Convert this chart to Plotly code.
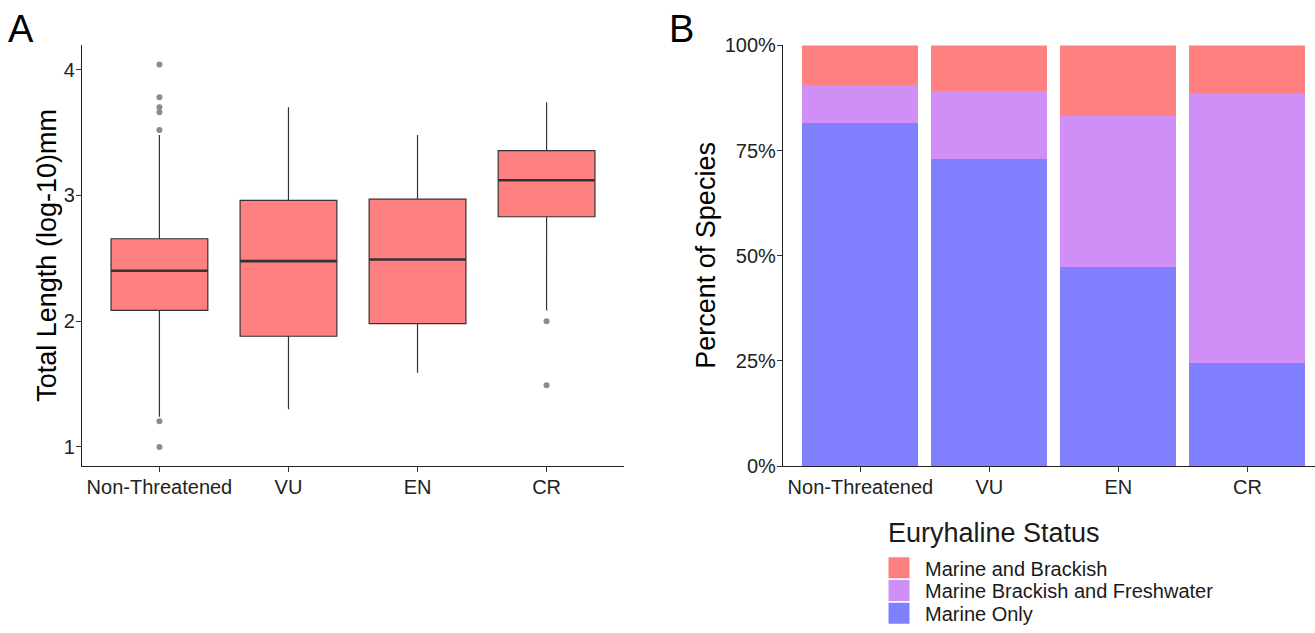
import plotly.graph_objects as go

# ---- Data ----
categories = ["Non-Threatened", "VU", "EN", "CR"]

# Panel A: box statistics of total length (log-10 mm)
box_q1 = [2.085, 1.88, 1.98, 2.83]
box_median = [2.40, 2.477, 2.49, 3.12]
box_q3 = [2.655, 2.96, 2.97, 3.355]
box_lower = [1.24, 1.30, 1.59, 2.085]
box_upper = [3.48, 3.70, 3.48, 3.74]
outlier_cat = [1, 1, 1, 1, 1, 1, 1, 4, 4]
outlier_val = [4.04, 3.78, 3.70, 3.66, 3.52, 1.205, 1.0, 2.0, 1.49]

# Panel B: percent of species by euryhaline status
status_names = ["Marine and Brackish", "Marine Brackish and Freshwater", "Marine Only"]
pct_marine_only = [81.6, 72.9, 47.3, 24.4]
pct_mbf = [8.9, 16.3, 35.8, 64.4]
pct_mb = [9.5, 10.8, 16.9, 11.2]
status_colors = ["#FF8080", "#CF8FF7", "#8080FF"]

W, H = 1315, 633
FONT = "Liberation Sans, Arial, sans-serif"
xs = [1, 2, 3, 4]


def px_x(p):
    return p / W


def px_y(p):
    return 1 - p / H


fig = go.Figure()

# Panel A boxes
fig.add_trace(go.Box(
    x=xs, q1=box_q1, median=box_median, q3=box_q3,
    lowerfence=box_lower, upperfence=box_upper,
    width=0.75, whiskerwidth=0, boxpoints=False,
    fillcolor="#FF8080", line=dict(color="#333333", width=1.2),
    xaxis="x", yaxis="y", showlegend=False, hoverinfo="skip",
))
# thicker median lines
mx, my = [], []
for x, m in zip(xs, box_median):
    mx += [x - 0.375, x + 0.375, None]
    my += [m, m, None]
fig.add_trace(go.Scatter(
    x=mx, y=my, mode="lines", line=dict(color="#333333", width=2.6),
    xaxis="x", yaxis="y", showlegend=False, hoverinfo="skip",
))
# outliers
fig.add_trace(go.Scatter(
    x=outlier_cat, y=outlier_val, mode="markers",
    marker=dict(color="#8c8c8c", size=6),
    xaxis="x", yaxis="y", showlegend=False, hoverinfo="skip",
))

# Panel B stacked bars (bottom to top)
for name, vals, col in [(status_names[2], pct_marine_only, status_colors[2]),
                        (status_names[1], pct_mbf, status_colors[1]),
                        (status_names[0], pct_mb, status_colors[0])]:
    fig.add_trace(go.Bar(
        x=xs, y=vals, width=0.9, marker=dict(color=col, line=dict(width=0)),
        name=name, xaxis="x2", yaxis="y2", showlegend=False, hoverinfo="skip",
    ))

# legend entries (square swatches), one legend per row for exact row spacing
legend_ids = ["legend", "legend2", "legend3"]
legend_rows_px = [575, 598, 621]
for name, col, lg in zip(status_names, status_colors, legend_ids):
    fig.add_trace(go.Scatter(
        x=[None], y=[None], mode="markers", name=name,
        marker=dict(symbol="square", size=16, color=col, line=dict(width=5, color=col)),
        xaxis="x2", yaxis="y2", showlegend=True, legend=lg,
    ))

tickfont = dict(family=FONT, size=20, color="#222222")
common_x = dict(tickvals=xs, ticktext=categories, tickfont=tickfont,
                showline=True, linecolor="#222222", linewidth=1.3,
                ticks="outside", ticklen=5, tickcolor="#333333",
                showgrid=False, zeroline=False, automargin=False,
                ticklabelstandoff=-2)
common_y = dict(tickfont=tickfont, showline=True, linecolor="#222222", linewidth=1.3,
                ticks="outside", ticklen=5, tickcolor="#333333",
                showgrid=False, zeroline=False, automargin=False,
                ticklabelstandoff=-3)

legend_common = dict(font=dict(family=FONT, size=20, color="#1a1a1a"),
                     bgcolor="rgba(0,0,0,0)", itemwidth=42,
                     xanchor="left", yanchor="middle", x=px_x(873))
legends = {}
for lg, ypx in zip(legend_ids, legend_rows_px):
    legends[lg] = dict(y=px_y(ypx), **legend_common)

fig.update_layout(
    width=W, height=H,
    margin=dict(l=0, r=0, t=0, b=0),
    paper_bgcolor="white", plot_bgcolor="white",
    font=dict(family=FONT),
    barmode="stack",
    xaxis=dict(domain=[px_x(82), px_x(624)], range=[0.4, 4.6], anchor="y", **common_x),
    yaxis=dict(domain=[px_y(472), px_y(46)], range=[0.848, 4.192], anchor="x",
               tickvals=[1, 2, 3, 4], **common_y),
    xaxis2=dict(domain=[px_x(783), 1.0], range=[0.4, 0.4 + 532 / 129], anchor="y2", **common_x),
    yaxis2=dict(domain=[px_y(472), px_y(46)], range=[0, 100], anchor="x2",
                tickvals=[0, 25, 50, 75, 100], ticktext=["0%", "25%", "50%", "75%", "100%"],
                **common_y),
    annotations=[
        dict(text="A", x=px_x(6), y=px_y(6), xref="paper", yref="paper",
             xanchor="left", yanchor="top", showarrow=False,
             font=dict(family=FONT, size=38, color="black")),
        dict(text="B", x=px_x(667), y=px_y(6), xref="paper", yref="paper",
             xanchor="left", yanchor="top", showarrow=False,
             font=dict(family=FONT, size=38, color="black")),
        dict(text="Total Length (log-10)mm", x=px_x(47), y=px_y(259), xref="paper", yref="paper",
             xanchor="center", yanchor="middle", textangle=-90, showarrow=False,
             font=dict(family=FONT, size=27, color="black")),
        dict(text="Percent of Species", x=px_x(706), y=px_y(259), xref="paper", yref="paper",
             xanchor="center", yanchor="middle", textangle=-90, showarrow=False,
             font=dict(family=FONT, size=27, color="black")),
        dict(text="Euryhaline Status", x=px_x(886), y=px_y(540), xref="paper", yref="paper",
             xanchor="left", yanchor="middle", showarrow=False,
             font=dict(family=FONT, size=27, color="#1a1a1a")),
    ],
    **legends,
)

fig.write_html("out.html")
